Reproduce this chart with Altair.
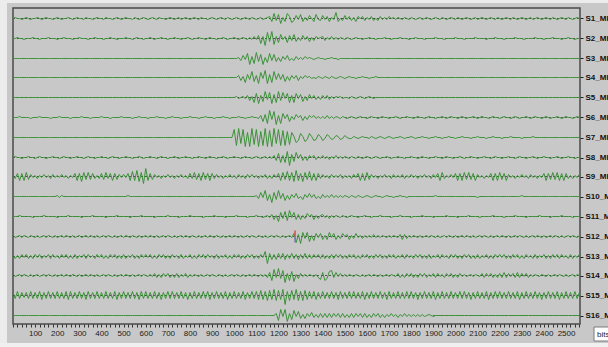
import altair as alt
import pandas as pd

# Sixteen vertical-component channels, one stored value every STEP samples
STEP = 10
X_MAX = 2563
FIRST = 10.0        # offset of the first trace below the top of the panel
TRACE_GAP = 19.8    # vertical spacing between traces
GREEN = "#3b9238"

channels = ["S1_MHZ", "S2_MHZ", "S3_MHZ", "S4_MHZ", "S5_MHZ", "S6_MHZ",
            "S7_MHZ", "S8_MHZ", "S9_MHZ", "S10_MHZ", "S11_MHZ", "S12_MHZ",
            "S13_MHZ", "S14_MHZ", "S15_MHZ", "S16_MHZ"]

# Each row of a trace covers 200 samples
s1 = [0, 1, 0, 0, -1, 0, 1, 0, -1, 0, 0, 1, 0, -1, 0, 1, 0, 0, -1, 0,
      1, 0, -1, 0, 0, 1, 0, -1, 0, 1, 0, 0, -1, 1, 0, 0, -1, 0, 1, 0,
      0, -1, 1, 0, 0, -1, 0, 1, 0, -1, 0, 1, 0, 0, -1, 1, 0, -1, 0, 1,
      0, -1, 0, 1, 0, -1, 1, 0, 0, -1, 0, 1, 0, -1, 0, 1, -1, 0, 1, 0,
      -1, 0, 1, 0, -1, 1, 0, 0, -1, 0, 1, 0, -1, 0, 1, 0, -1, 1, 0, -1,
      0, 1, 0, -1, 0, 1, 0, -1, 1, 0, -1, 0, 1, -1, 0, 1, 2, -3, 5, -2,
      4, -5, 1, -3, 5, 2, -4, -2, 3, -1, 4, -3, 1, -2, 3, 0, -3, 4, -1, -2,
      3, -1, 2, -3, 1, -1, 6, -3, 0, -2, 3, -1, 2, -2, 1, -3, 2, 0, 2, -2,
      1, -1, 2, -2, 0, -2, 2, -1, 1, -1, 2, 0, 1, -1, 1, 0, -1, 1, 0, -1,
      1, 0, -1, 0, 1, -1, 0, 1, 0, -1, 0, 1, 0, -1, 1, 0, -1, 0, 1, 0,
      -1, 1, 0, -1, 0, 1, 0, -1, 0, 1, -1, 0, 1, 0, -1, 0, 1, 0, -1, 1,
      0, -1, 0, 1, 0, -1, 1, 0, -1, 0, 1, 0, -1, 0, 1, -1, 0, 1, 0, -1,
      0, 1, 0, -1, 1, 0, -1, 0, 1, 0, -1, 1, 0, -1, 0, 1, 0]

s2 = [0, 0, 1, 0, 0, -1, 0, 0, 0, 1, 0, 0, -1, 0, 0, 0, 1, 0, 0, 0,
      -1, 0, 0, 1, 0, 0, 0, -1, 0, 0, 1, 0, 0, 0, -1, 0, 0, 1, 0, 0,
      0, -1, 0, 0, 1, 0, 0, -1, 0, 0, 0, 1, 0, 0, -1, 0, 1, 0, 0, -1,
      0, 0, 1, 0, -1, 0, 0, 1, 0, 0, -1, 0, 0, 1, 0, 0, -1, 0, 0, 1,
      0, -1, 0, 0, 1, 0, 0, -1, 0, 1, 0, 0, -1, 0, 0, 1, 0, -1, 0, 0,
      1, 0, -1, 0, 1, 0, -1, 1, -1, 2, -1, 3, -5, 2, -7, 6, -3, 7, -6, 2,
      -4, 4, -1, 2, -4, 3, -2, 4, -3, 1, -2, 3, -1, 2, -3, 1, -2, 2, 0, 1,
      2, -2, 1, -1, 2, -1, 1, -1, 1, 0, -1, 1, 0, -1, 0, 1, 0, 0, -1, 0,
      0, 1, 0, 0, -1, 0, 0, 0, 1, 0, 0, -1, 0, 0, 0, 1, 0, 0, 0, -1,
      0, 0, 1, 0, 0, 0, -1, 0, 0, 0, 0, 1, 0, 0, 0, -1, 0, 0, 0, 0,
      1, 0, 0, 0, -1, 0, 0, 0, 0, 1, 0, 0, 0, 0, -1, 0, 0, 0, 1, 0,
      0, 0, -1, 0, 0, 0, 0, 1, 0, 0, 0, -1, 0, 0, 0, 0, 1, 0, 0, 0,
      -1, 0, 0, 0, 1, 0, 0, 0, -1, 0, 0, 1, 0, 0, -1, 0, 0]

s3 = [0, 0, 0, 0, 0, 0, 0, 0, 0, 0, 0, 0, 0, 0, 0, 0, 0, 0, 0, 0,
      0, 0, 0, 0, 0, 0, 0, 0, 0, 0, 0, 0, 0, 0, 0, 0, 0, 0, 0, 0,
      0, 0, 0, 0, 0, 0, 0, 0, 0, 0, 0, 0, 0, 0, 0, 0, 0, 0, 0, 0,
      0, 0, 0, 0, 0, 0, 0, 0, 0, 0, 0, 0, 0, 0, 0, 0, 0, 0, 0, 0,
      0, 0, 0, 0, 0, 0, 0, 0, 0, 0, 0, 0, 0, 0, 0, 0, 0, 0, 0, 0,
      0, 0, 1, -2, 3, -1, 5, -6, 2, -5, 6, -3, 4, -6, 1, -4, 5, -2, 4, -3,
      1, -3, 2, -1, 3, -2, 0, -2, 2, -1, 1, -1, 2, 0, 1, 0, -1, 0, 1, 0,
      0, -1, 0, 0, 1, 0, 0, -1, 0, 0, 0, 0, 0, 0, 0, 0, 0, 0, 0, 0,
      0, 0, 0, 0, 0, 0, 0, 0, 0, 0, 0, 0, 0, 0, 0, 0, 0, 0, 0, 0,
      0, 0, 0, 0, 0, 0, 0, 0, 0, 0, 0, 0, 0, 0, 0, 0, 0, 0, 0, 0,
      0, 0, 0, 0, 0, 0, 0, 0, 0, 0, 0, 0, 0, 0, 0, 0, 0, 0, 0, 0,
      0, 0, 0, 0, 0, 0, 0, 0, 0, 0, 0, 0, 0, 0, 0, 0, 0, 0, 0, 0,
      0, 0, 0, 0, 0, 0, 0, 0, 0, 0, 0, 0, 0, 0, 0, 0, 0]

s4 = [0, 0, 0, 0, 0, 0, 0, 0, 0, 0, 0, 0, 0, 0, 0, 0, 0, 0, 0, 0,
      0, 0, 0, 0, 0, 0, 0, 0, 0, 0, 0, 0, 0, 0, 0, 0, 0, 0, 0, 0,
      0, 0, 0, 0, 0, 0, 0, 0, 0, 0, 0, 0, 0, 0, 0, 0, 0, 0, 0, 0,
      0, 0, 0, 0, 0, 0, 0, 0, 0, 0, 0, 0, 0, 0, 0, 0, 0, 0, 0, 0,
      0, 0, 0, 0, 0, 0, 0, 0, 0, 0, 0, 0, 0, 0, 0, 0, 0, 0, 0, 0,
      0, 0, 2, -3, 1, -5, 3, -2, 6, -4, 2, -6, 5, -1, 7, -6, 3, -5, 6, -2,
      4, -2, 3, -4, 1, -3, 2, -1, 2, -3, 1, -1, 2, 0, 1, -1, 0, -1, 1, 0,
      -1, 1, 0, -1, 1, 0, -1, 0, 1, 0, -1, 0, 1, 0, 0, -1, 0, 0, 1, 0,
      0, -1, 0, 0, 1, 0, 0, 0, 0, 0, 0, 0, 0, 0, 0, 0, 0, 0, 0, 0,
      0, 0, 0, 0, 0, 0, 0, 0, 0, 0, 0, 0, 0, 0, 0, 0, 0, 0, 0, 0,
      0, 0, 0, 0, 0, 0, 0, 0, 0, 0, 0, 0, 0, 0, 0, 0, 0, 0, 0, 0,
      0, 0, 0, 0, 0, 0, 0, 0, 0, 0, 0, 0, 0, 0, 0, 0, 0, 0, 0, 0,
      0, 0, 0, 0, 0, 0, 0, 0, 0, 0, 0, 0, 0, 0, 0, 0, 0]

s5 = [0, 0, 0, 0, 0, 0, 0, 0, 0, 0, 0, 0, 0, 0, 0, 0, 0, 0, 0, 0,
      0, 0, 0, 0, 0, 0, 0, 0, 0, 0, 0, 0, 0, 0, 0, 0, 0, 0, 0, 0,
      0, 0, 0, 0, 0, 0, 0, 0, 0, 0, 0, 0, 0, 0, 0, 0, 0, 0, 0, 0,
      0, 0, 0, 0, 0, 0, 0, 0, 0, 0, 0, 0, 0, 0, 0, 0, 0, 0, 0, 0,
      0, 0, 0, 0, 0, 0, 0, 0, 0, 0, 0, 0, 0, 0, 0, 0, 0, 0, 0, 0,
      0, 1, -1, 0, 1, -1, 2, -3, 1, -5, 4, -6, 2, -4, 6, -2, 5, -6, 3, -5,
      6, -3, 5, -1, 4, -5, 2, -5, 4, -1, 3, -4, 1, -3, 3, -1, 2, -2, 1, -2,
      2, -1, 2, -2, 1, -1, 1, 0, 1, -1, 0, 0, -1, 1, 0, -1, 0, 1, 0, -1,
      0, 1, 0, -1, 0, 0, 0, 0, 0, 0, 0, 0, 0, 0, 0, 0, 0, 0, 0, 0,
      0, 0, 0, 0, 0, 0, 0, 0, 0, 0, 0, 0, 0, 0, 0, 0, 0, 0, 0, 0,
      0, 0, 0, 0, 0, 0, 0, 0, 0, 0, 0, 0, 0, 0, 0, 0, 0, 0, 0, 0,
      0, 0, 0, 0, 0, 0, 0, 0, 0, 0, 0, 0, 0, 0, 0, 0, 0, 0, 0, 0,
      0, 0, 0, 0, 0, 0, 0, 0, 0, 0, 0, 0, 0, 0, 0, 0, 0]

s6 = [0, 0, 0, 1, 0, 0, 0, 0, -1, 0, 0, 0, 1, 0, 0, 0, 0, -1, 0, 0,
      0, 1, 0, 0, 0, 0, -1, 0, 0, 0, 0, 1, 0, 0, 0, -1, 0, 0, 0, 0,
      1, 0, 0, 0, -1, 0, 0, 0, 0, 1, 0, 0, 0, 0, -1, 0, 0, 1, 0, 0,
      0, -1, 0, 0, 0, 1, 0, 0, 0, -1, 0, 0, 1, 0, 0, 0, -1, 0, 0, 0,
      1, 0, 0, 0, -1, 0, 0, 1, 0, 0, 0, -1, 0, 0, 0, 1, 0, 0, -1, 0,
      0, 0, 1, 0, 0, -1, 0, 0, 1, 0, 0, -1, 2, -4, 3, -6, 7, -2, 6, -7,
      2, -6, 4, -1, 3, -4, 1, -2, 3, 0, 2, -3, 1, -2, 2, 0, 2, -1, 1, -1,
      1, -1, 2, -1, 1, -1, 1, 0, -1, 1, 0, -1, 0, 1, 0, -1, 0, 1, 0, 0,
      -1, 0, 1, 0, 0, -1, 0, 1, 0, 0, -1, 0, 0, 1, 0, -1, 0, 0, 1, 0,
      0, -1, 0, 1, 0, 0, -1, 0, 1, 0, 0, -1, 0, 0, 1, 0, -1, 0, 1, 0,
      0, -1, 0, 1, 0, -1, 0, 0, 1, 0, -1, 0, 1, 0, 0, -1, 0, 1, 0, 0,
      -1, 0, 1, 0, 0, -1, 0, 1, 0, -1, 0, 0, 1, 0, -1, 0, 1, 0, 0, -1,
      0, 1, 0, -1, 0, 0, 1, 0, -1, 0, 1, 0, 0, -1, 0, 1, 0]

s7 = [0, 0, 0, 0, 0, 0, 0, 0, 0, 0, 0, 0, 0, 0, 0, 0, 0, 0, 0, 0,
      0, 0, 0, 0, 0, 0, 0, 0, 0, 0, 0, 0, 0, 0, 0, 0, 0, 0, 0, 0,
      0, 0, 0, 0, 0, 0, 0, 0, 0, 0, 0, 0, 0, 0, 0, 0, 0, 0, 0, 0,
      0, 0, 0, 0, 0, 0, 0, 0, 0, 0, 0, 0, 0, 0, 0, 0, 0, 0, 0, 0,
      0, 0, 0, 0, 0, 0, 0, 0, 0, 0, 0, 0, 0, 0, 0, 0, 0, 0, 0, 0,
      8, -8, 9, -6, 8, -9, 5, -9, 9, -7, 8, -9, 6, -8, 9, -9, 7, -9, 9, -6,
      8, -8, 7, -8, 6, -7, 5, 1, -5, -3, 4, 1, -4, -2, 4, 1, -3, -2, 3, 1,
      -3, -1, 3, 1, -2, -1, 2, 1, -2, -1, 2, 0, -1, -1, 1, 0, -1, 0, 1, 0,
      0, -1, 1, 0, -1, 0, 1, 0, -1, 0, 1, 0, -1, 0, 0, 1, 0, -1, 0, 0,
      1, 0, -1, 0, 0, 1, 0, 0, -1, 0, 0, 1, 0, 0, -1, 0, 0, 1, 0, 0,
      -1, 0, 0, 1, 0, 0, 0, -1, 0, 0, 1, 0, 0, 0, -1, 0, 0, 1, 0, 0,
      0, -1, 0, 0, 0, 1, 0, 0, 0, 0, -1, 0, 0, 0, 0, 1, 0, 0, 0, 0,
      0, 0, 0, 0, 0, 0, 0, 0, 0, 0, 0, 0, 0, 0, 0, 0, 0]

s8 = [0, 1, 0, 0, -1, 0, 0, 1, 0, 0, -1, 0, 1, 0, 0, -1, 0, 0, 1, 0,
      0, -1, 0, 1, 0, 0, -1, 0, 0, 1, 0, 0, -1, 0, 1, 0, 0, -1, 0, 0,
      1, 0, 0, -1, 0, 1, 0, 0, -1, 0, 0, 1, 0, 0, -1, 0, 0, 1, 0, -1,
      0, 0, 1, 0, 0, -1, 0, 1, 0, 0, -1, 0, 0, 1, 0, -1, 0, 0, 1, 0,
      0, -1, 0, 0, 1, 0, 0, -1, 0, 1, 0, 0, -1, 0, 0, 1, 0, -1, 0, 0,
      1, 0, 0, -1, 0, 1, 0, 0, -1, 0, 1, 0, -1, 0, 1, -1, 1, -1, 2, -3,
      4, -5, 2, -5, 6, -8, 3, -4, 5, -1, 3, -3, 1, -3, 2, 0, 2, -2, 1, -1,
      2, -1, 1, -2, 1, -1, 2, -1, 1, -1, 1, 0, -1, 1, 0, -1, 1, 0, -1, 0,
      1, 0, -1, 0, 1, 0, -1, 0, 0, 1, 0, -1, 0, 0, 1, 0, 0, -1, 0, 0,
      1, 0, 0, -1, 0, 1, 0, 0, -1, 0, 0, 1, 0, 0, -1, 0, 1, 0, 0, -1,
      0, 0, 1, 0, -1, 0, 0, 1, 0, 0, -1, 0, 0, 1, 0, 0, -1, 0, 1, 0,
      0, -1, 0, 0, 1, 0, 0, -1, 0, 1, 0, 0, -1, 0, 0, 1, 0, -1, 0, 0,
      1, 0, 0, -1, 0, 0, 1, 0, -1, 0, 0, 1, 0, 0, -1, 0, 0]

s9 = [1, -2, 3, -4, 3, -4, 4, -3, 2, -1, 1, -2, 1, -1, 2, -1, 1, -2, 2, -1,
      1, -1, 2, -1, 1, -2, 1, -1, 3, -4, 3, -5, 4, -3, 4, -3, 3, -2, 1, -2,
      3, -3, 4, -2, 3, -4, 3, -3, 2, -1, 2, -1, 3, -4, 5, -4, 6, -5, 4, -7,
      8, -4, 3, -3, 2, -1, 1, -2, 1, -1, 2, -1, 1, -2, 1, -1, 2, -1, 1, -2,
      3, -2, 4, -3, 3, -4, 4, -3, 3, -4, 3, -2, 2, -1, 1, -2, 1, -1, 2, -1,
      1, -2, 2, -1, 1, -2, 2, -1, 2, -1, 1, -2, 1, -1, 2, -2, 1, -2, 2, -1,
      3, -4, 4, -3, 5, -4, 4, -5, 6, -4, 3, -5, 4, -3, 5, -4, 3, -4, 3, -2,
      2, -1, 1, -2, 2, -1, 1, -1, 2, -2, 1, -1, 1, -2, 2, -1, 3, -4, 3, -4,
      4, -3, 2, -1, 1, -2, 1, -1, 2, -1, 1, -2, 2, -1, 1, -1, 2, -2, 1, -1,
      2, -1, 1, -2, 1, -1, 2, -1, 1, -2, 2, -1, 3, -4, 4, -2, 1, -1, 2, -1,
      3, -4, 3, -4, 4, -3, 4, -3, 3, -4, 2, -1, 1, -2, 1, -1, 3, -4, 3, -4,
      4, -3, 3, -4, 2, -1, 1, -2, 1, -1, 2, -1, 1, -2, 2, -1, 1, -2, 1, -1,
      3, -4, 3, -3, 4, -3, 4, -4, 3, -4, 3, -2, 1, -2, 1, -1, 2]

s10 = [0, 0, 0, 0, 0, 0, 0, 0, 0, 0, 0, 0, 0, 0, 0, 0, 0, 0, 0, 0,
       1, -1, 1, 0, 0, 0, 0, 0, 0, 0, 0, 0, 0, 0, 0, 0, 0, 0, 0, 0,
       0, 0, 0, 0, 0, 0, 0, 0, 0, 0, 0, 0, 1, 0, 0, 0, 0, 0, 0, 0,
       0, 0, 0, 0, 0, 0, 0, 0, 0, 0, 0, 0, 0, 0, 0, 0, 0, 0, 0, 0,
       0, 0, 0, 0, 0, 0, 0, 0, 0, 0, 0, 0, 0, 0, 0, 0, 0, 0, 0, 0,
       0, 0, 0, 0, 0, 0, 0, 0, 0, 0, 1, -2, 4, -1, 6, -4, 2, -6, 4, -3,
       6, -2, 3, -4, 1, -3, 2, -1, 3, -2, 0, -3, 2, -1, 3, -1, 2, -2, 0, -2,
       2, -1, 1, -1, 2, -1, 1, -1, 1, -1, 1, 0, -1, 1, 0, -1, 1, 0, -1, 0,
       1, 0, -1, 0, 1, 0, 0, -1, 0, 1, 0, 0, -1, 0, 0, 1, 0, 0, -1, 0,
       0, 0, 0, 0, 0, 0, 0, 0, 0, 0, 0, 1, 0, 0, 0, 0, 0, 0, 0, 0,
       0, 0, 0, 0, 0, 0, 0, 0, 0, 0, -1, 0, 0, 0, 0, 0, 0, 0, 0, 0,
       0, 0, 0, 0, 0, 0, 0, 0, 0, 0, 1, 0, 0, 0, 0, 0, 0, 0, 0, 0,
       0, 0, 0, 0, 0, 0, 0, 0, 0, 0, 0, 0, 0, 0, 0, 0, 0]

s11 = [0, 0, 0, 1, 0, 0, 0, 0, 0, -1, 0, 0, 0, 0, 1, 0, 0, 0, 0, 0,
       -1, 0, 0, 0, 0, 1, 0, 0, 0, 0, 0, -1, 0, 0, 0, 0, 1, 0, 0, 0,
       0, 0, -1, 0, 0, 0, 0, 1, 0, 0, 0, 0, 0, -1, 0, 0, 0, 0, 1, 0,
       0, 0, 0, 0, -1, 0, 0, 0, 0, 0, 1, 0, 0, 0, 0, -1, 0, 0, 0, 0,
       1, 0, 0, 0, 0, 0, -1, 0, 0, 0, 0, 1, 0, 0, 0, 0, -1, 0, 0, 0,
       0, 1, 0, 0, 0, 0, -1, 0, 0, 0, 1, 0, 0, -1, 0, 1, -1, 2, -3, 1,
       -5, 4, -2, 5, -4, 6, -1, 4, -3, 2, -3, 1, -2, 3, 0, 2, -3, 1, -2, 1,
       2, -1, 1, -2, 1, -1, 1, 0, -1, 1, 0, -1, 0, 1, 0, 0, -1, 0, 0, 1,
       0, 0, -1, 0, 0, 0, 1, 0, 0, 0, 0, -1, 0, 0, 0, 1, 0, 0, 0, 0,
       -1, 0, 0, 0, 0, 1, 0, 0, 0, 0, -1, 0, 0, 0, 0, 0, 1, 0, 0, 0,
       0, -1, 0, 0, 0, 0, 1, 0, 0, 0, 0, -1, 0, 0, 0, 0, 0, 1, 0, 0,
       0, 0, -1, 0, 0, 0, 0, 1, 0, 0, 0, 0, -1, 0, 0, 0, 0, 0, 1, 0,
       0, 0, 0, -1, 0, 0, 0, 0, 1, 0, 0, 0, 0, -1, 0, 0, 0]

s12 = [1, -1, 0, 1, -1, 1, 0, -1, 1, 0, -1, 1, -1, 0, 1, -1, 1, 0, -1, 1,
       -1, 0, 1, -1, 1, 0, -1, 1, -1, 0, 1, -1, 0, 1, -1, 1, 0, -1, 1, -1,
       0, 1, -1, 1, 0, -1, 1, -1, 0, 1, -1, 1, 0, -1, 1, 0, -1, 1, -1, 0,
       1, -1, 1, 0, -1, 1, -1, 0, 1, -1, 1, 0, -1, 1, -1, 0, 1, -1, 1, 0,
       -1, 1, 0, -1, 1, -1, 0, 1, -1, 1, 0, -1, 1, 0, -1, 1, -1, 0, 1, -1,
       1, 0, -1, 1, -1, 0, 1, -1, 1, 0, -1, 1, 0, -1, 1, -1, 0, 1, -1, 1,
       0, -1, 1, -1, 0, 1, -1, 3, -6, 2, -7, 4, -2, 4, -5, 1, -4, 3, -1, 3,
       -3, 1, -3, 4, -1, 3, -3, 1, -2, 3, 0, 2, -3, 1, -2, 3, -1, 1, -2, 1,
       -1, 1, -1, 2, -1, 1, -1, 1, 0, -1, 1, -1, 1, 0, -1, 2, -3, 2, -2, 1,
       -1, 1, 0, -1, 1, -1, 0, 1, -1, 1, 0, -1, 1, -1, 0, 1, -1, 1, 0, -1,
       1, -1, 0, 1, -1, 1, 0, -1, 1, -1, 0, 1, -1, 1, 0, -1, 1, -1, 0, 1,
       -1, 1, 0, -1, 1, -1, 0, 1, -1, 1, 0, -1, 1, -1, 0, 1, -1, 1, 0, -1,
       1, -1, 0, 1, -1, 1, 0, -1, 1, -1, 0, 1, -1, 1, 0, -1, 1]

s13 = [2, -2, 1, -2, 2, -1, 2, -2, 1, -2, 2, -1, 2, -2, 1, -1, 2, -2, 2, -1,
       1, -2, 2, -1, 2, -2, 1, -2, 2, -2, 1, -1, 2, -2, 2, -1, 1, -2, 2, -1,
       2, -2, 1, -2, 2, -1, 2, -2, 1, -2, 2, -2, 1, -1, 2, -2, 1, -2, 2, -1,
       2, -1, 2, -2, 1, -2, 2, -1, 2, -2, 1, -2, 2, -1, 1, -2, 2, -2, 1, -1,
       2, -2, 1, -2, 2, -1, 2, -2, 2, -1, 1, -2, 2, -2, 1, -1, 2, -2, 1, -2,
       2, -1, 2, -2, 1, -2, 2, -1, 2, -2, 1, -2, 2, -1, 5, -7, 3, -3, 2, -3,
       3, -2, 3, -3, 2, -2, 3, -2, 2, -3, 2, -2, 3, -2, 2, -2, 2, -1, 2, -2,
       2, -2, 1, -2, 2, -2, 2, -1, 2, -2, 1, -2, 2, -1, 2, -2, 1, -2, 2, -1,
       2, -2, 1, -2, 2, -1, 2, -2, 1, -2, 2, -1, 2, -2, 1, -1, 2, -2, 2, -1,
       1, -2, 2, -1, 2, -2, 1, -2, 2, -2, 1, -1, 2, -2, 2, -1, 1, -2, 2, -1,
       2, -2, 1, -2, 2, -1, 2, -2, 1, -2, 2, -2, 1, -1, 2, -2, 1, -2, 2, -1,
       2, -1, 2, -2, 1, -2, 2, -1, 2, -2, 1, -2, 2, -1, 1, -2, 2, -2, 1, -1,
       2, -2, 1, -2, 2, -1, 2, -2, 2, -1, 1, -2, 2, -2, 1, -1, 2]

s14 = [1, -1, 0, 1, -1, 1, 0, -1, 1, -1, 0, 1, -1, 0, 1, -1, 1, 0, -1, 1,
       -1, 0, 1, -1, 1, 0, -1, 1, 0, -1, 1, -1, 0, 1, -1, 1, 0, -1, 1, -1,
       0, 1, -1, 1, 0, -1, 1, -1, 0, 1, -1, 1, 0, -1, 1, -1, 0, 1, -1, 1,
       0, -1, 1, -1, 2, -2, 1, -2, 2, -1, 2, -2, 1, -2, 2, -2, 1, -1, 2, -2,
       1, -1, 1, 0, -1, 1, -1, 0, 1, -1, 1, 0, -1, 1, 0, -1, 1, -1, 0, 1,
       -1, 1, 0, -1, 1, -1, 0, 1, -1, 1, 0, -1, 1, -1, 1, -2, 3, -5, 6, -2,
       7, -3, 5, -7, 2, -5, 4, -6, 1, -3, 2, -1, 1, -1, 1, 0, -1, 1, -2, -4,
       3, -5, -3, 4, 5, -2, 3, -1, 2, -1, 1, -1, 1, 0, -1, 1, 0, -1, 1, -1,
       0, 1, -1, 1, 0, -1, 1, -1, 0, 1, -1, 1, 0, -1, 2, -2, 1, -2, 2, -1,
       2, -2, 1, -2, 2, -1, 2, -2, 1, -1, 2, -2, 2, -1, 1, -2, 2, -1, 2, -2,
       1, -2, 2, -1, 1, -1, 0, 1, -1, 1, 0, -1, 2, -2, 2, -1, 2, -2, 1, -2,
       2, -2, 3, -2, 2, -1, 2, -2, 3, -2, 2, -1, 2, -2, 1, -1, 1, 0, -1, 1,
       0, -1, 1, -1, 0, 1, -1, 1, 0, -1, 1, -1, 0, 1, -1, 1, 0]

s15 = [3, -3, 4, -3, 3, -2, 3, -3, 4, -3, 3, -3, 4, -4, 3, -3, 4, -3, 3, -3,
       4, -3, 3, -3, 4, -4, 4, -3, 3, -3, 4, -3, 3, -4, 4, -3, 3, -3, 4, -3,
       3, -3, 4, -3, 3, -3, 4, -4, 3, -3, 4, -3, 3, -3, 4, -3, 3, -4, 4, -3,
       4, -3, 3, -3, 4, -3, 3, -4, 3, -3, 4, -3, 4, -3, 3, -3, 4, -3, 3, -4,
       3, -3, 4, -3, 3, -3, 4, -3, 4, -4, 3, -3, 4, -3, 3, -3, 4, -4, 3, -3,
       4, -3, 3, -3, 4, -4, 3, -3, 4, -3, 4, -4, 5, -4, 4, -5, 5, -4, 6, -5,
       5, -4, 6, -9, 4, -5, 5, -4, 6, -5, 4, -5, 5, -4, 4, -3, 4, -4, 3, -3,
       4, -3, 3, -3, 4, -3, 3, -4, 4, -3, 3, -3, 4, -3, 4, -3, 3, -3, 4, -4,
       3, -3, 4, -3, 3, -3, 4, -3, 3, -4, 4, -3, 3, -3, 4, -3, 3, -3, 4, -3,
       4, -3, 3, -4, 3, -3, 4, -3, 3, -3, 4, -4, 3, -3, 4, -3, 3, -3, 4, -3,
       3, -3, 4, -3, 4, -3, 3, -4, 3, -3, 4, -3, 3, -3, 4, -4, 3, -3, 4, -3,
       4, -3, 3, -3, 4, -3, 3, -3, 4, -4, 3, -3, 4, -3, 3, -3, 4, -3, 3, -4,
       3, -3, 4, -3, 3, -3, 4, -4, 3, -3, 4, -3, 3, -3, 4, -3, 3]

s16 = [0, 0, 0, 0, 0, 0, 0, 0, 0, 0, 0, 0, 0, 0, 0, 0, 0, 0, 0, 0,
       0, 0, 0, 0, 0, 0, 0, 0, 0, 0, 0, 0, 0, 0, 0, 0, 0, 0, 0, 0,
       0, 0, 0, 0, 0, 0, 0, 0, 0, 0, 0, 0, 0, 0, 0, 0, 0, 0, 0, 0,
       0, 0, 0, 0, 0, 0, 0, 0, 0, 0, 0, 0, 0, 0, 0, 0, 0, 0, 0, 0,
       0, 0, 0, 0, 0, 0, 0, 0, 0, 0, 0, 0, 0, 0, 0, 0, 0, 0, 0, 0,
       0, 0, 0, 0, 0, 0, 0, 0, 0, 0, 0, 0, 0, 0, 0, 0, 0, 0, 0, 2,
       -5, 6, -1, 6, -6, 2, -4, 5, -1, 4, -3, 1, -3, 2, -1, 3, -2, 1, -2, 2,
       -2, 2, -2, 2, -2, 2, -1, 2, -2, 2, -2, 1, -2, 2, -2, 2, -1, 2, -2, 2,
       -2, 1, -2, 2, -1, 2, -2, 1, -2, 1, -1, 2, -1, 1, -2, 1, -1, 2, -1, 1,
       -1, 1, -1, 1, -1, 1, -1, 0, 1, 0, -1, 0, 0, 0, 0, 0, 0, 0, 0, 0,
       0, 0, 0, 0, 0, 0, 0, 0, 0, 0, 0, 0, 0, 0, 0, 0, 0, 0, 0, 0,
       0, 0, 0, 0, 0, 0, 0, 0, 0, 0, 0, 0, 0, 0, 0, 0, 0, 0, 0, 0,
       0, 0, 0, 0, 0, 0, 0, 0, 0, 0, 0, 0, 0, 0, 0, 0, 0]

traces = [s1, s2, s3, s4, s5, s6, s7, s8, s9, s10, s11, s12, s13, s14, s15, s16]

# Dark dotted zero line (from this sample on) under the noisier channels; -1 = none
dotted_start = [0, 0, -1, -1, 0, 1500, -1, 0, 0, -1, 0, 0, 0, 0, 0, 1900]

# Pick marker on channel 12: sample, extent above and below the trace
pick_sample = 1275
pick_up = 6
pick_down = 6

# Baselines snapped to pixel centres so the flat stretches stay crisp
offsets = [-(round(FIRST + i * TRACE_GAP) + 0.5) for i in range(len(channels))]

rows = []
for name, off, vals in zip(channels, offsets, traces):
    for k, v in enumerate(vals):
        rows.append({"channel": name, "sample": k * STEP, "y": off + v})
wave_df = pd.DataFrame(rows)

dot_rows = [{"channel": name, "sample": start, "sample_end": X_MAX, "y": off}
            for name, off, start in zip(channels, offsets, dotted_start) if start >= 0]
dot_df = pd.DataFrame(dot_rows)

off12 = offsets[11]
pick_df = pd.DataFrame([
    {"sample": pick_sample, "y": off12, "y2": off12 + pick_up, "c": "#e04848"},
    {"sample": pick_sample, "y": off12, "y2": off12 - pick_down, "c": "#7a78c0"},
])

name_array = "[" + ",".join("'" + c + "'" for c in channels) + "]"
offset_array = "[" + ",".join(repr(o) for o in offsets) + "]"

x_enc = alt.X(
    "sample:Q",
    scale=alt.Scale(domain=[0, X_MAX], nice=False, zero=False),
    axis=alt.Axis(
        values=list(range(0, 2561, 20)),
        labelExpr="datum.value % 100 == 0 && datum.value > 0 ? datum.value : ''",
        title=None, grid=False, domain=False, ticks=True, tickSize=3,
        tickColor="#333333", labelColor="#1a1a1a", labelFont="Liberation Sans",
        labelFontSize=8, labelPadding=2, labelOverlap=False, labelFlush=False,
    ),
)
y_enc = alt.Y(
    "y:Q",
    scale=alt.Scale(domain=[-316, 0], nice=False, zero=False),
    axis=alt.Axis(
        orient="right", values=offsets,
        labelExpr=name_array + "[indexof(" + offset_array + ", datum.value)]",
        title=None, grid=False, domain=False, ticks=True, tickSize=3,
        tickColor="#222222", labelColor="#111111", labelFont="Liberation Sans",
        labelFontWeight="bold", labelFontSize=8, labelPadding=2, labelAlign="left",
        labelBaseline="middle",
    ),
)

dotted = alt.Chart(dot_df).mark_rule(
    color="#2a2a2a", strokeWidth=1, strokeDash=[2, 2], opacity=0.75, clip=True
).encode(x=x_enc, x2="sample_end:Q", y=y_enc)

waves = alt.Chart(wave_df).mark_line(
    color=GREEN, strokeWidth=1, clip=True
).encode(x=x_enc, y=y_enc, detail="channel:N")

pick = alt.Chart(pick_df).mark_rule(strokeWidth=1.5, clip=True).encode(
    x=x_enc, y=y_enc, y2="y2:Q", color=alt.Color("c:N", scale=None)
)

one = pd.DataFrame({"a": [0]})

# Lighter window border round the grey panel
frame_left = alt.Chart(one).mark_rect(color="#ececec").encode(
    x=alt.value(-13), x2=alt.value(-6), y=alt.value(-8), y2=alt.value(339))
frame_top = alt.Chart(one).mark_rect(color="#ececec").encode(
    x=alt.value(-13), x2=alt.value(600), y=alt.value(-8), y2=alt.value(-5))
frame_bottom = alt.Chart(one).mark_rect(color="#f0f0f0").encode(
    x=alt.value(-13), x2=alt.value(600), y=alt.value(335), y2=alt.value(339))

# Units box in the lower right corner
units_box = alt.Chart(one).mark_rect(fill="white", stroke="#7a7a7a", strokeWidth=1).encode(
    x=alt.value(581), x2=alt.value(612), y=alt.value(319), y2=alt.value(333))
units_text = alt.Chart(one).mark_text(
    text="bits", align="left", baseline="middle", fontSize=8,
    font="Liberation Sans", color="#222222"
).encode(x=alt.value(584), y=alt.value(326.5))

chart = alt.layer(
    frame_left, frame_top, frame_bottom, dotted, waves, pick, units_box, units_text
).properties(
    width=567, height=316,
    autosize=alt.AutoSizeParams(type="none"),
    padding={"left": 13, "top": 8, "right": 28, "bottom": 23},
).configure(
    background="#c8c8c8"
).configure_view(
    stroke="#4a4a4a", strokeWidth=1.5
)

chart.save("out.html", embed_options={"renderer": "svg", "actions": False})
